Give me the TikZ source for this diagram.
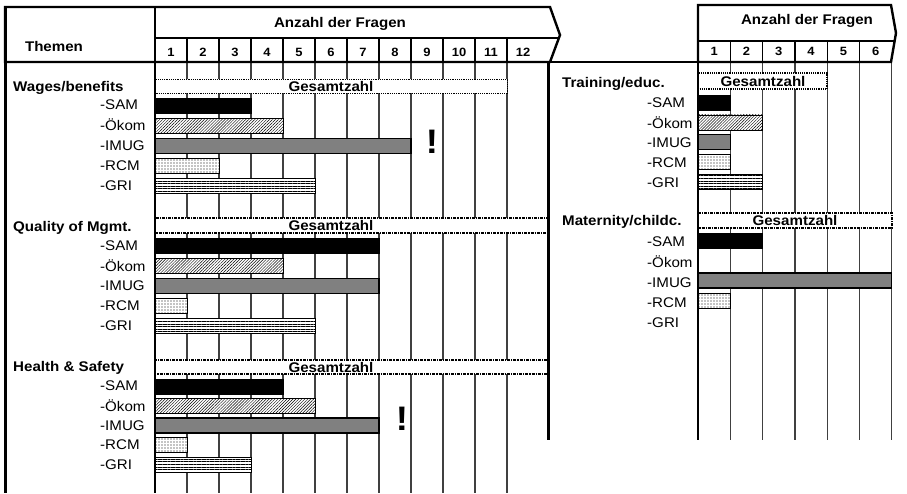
\documentclass[tikz,border=0pt]{standalone}
\usepackage{fontspec}
\setmainfont{Liberation Sans}[FakeStretch=1.08]
\usetikzlibrary{patterns.meta}
\tikzset{
  gridline/.style={line width=1.2pt, draw=black!75},
  hdr/.style={line width=2.4pt, line join=miter},
  sepline/.style={line width=1.4pt},
  totbox/.style={fill=white, draw=black, line width=1.2pt},
  sam/.style={fill=black, draw=black, line width=0.8pt},
  okom/.style={preaction={fill=white}, pattern={Lines[angle=45, distance=2.1pt, line width=0.45pt]}},
  imug/.style={fill=black!50, draw=black, line width=1.2pt},
  rcm/.style={preaction={fill=white}, pattern={Dots[distance=3pt, radius=0.6pt]}, draw=black, line width=1pt},
  gri/.style={preaction={fill=white}, pattern={Lines[angle=0, distance=2.6pt, line width=0.9pt]}, draw=black, line width=1pt},
  lbl/.style={anchor=west, inner sep=0pt, font=\fontsize{14}{16}\selectfont},
  sect/.style={lbl, font=\fontsize{14}{16}\selectfont\bfseries},
  num/.style={inner sep=0pt, font=\fontsize{12}{14}\selectfont\bfseries},
  total/.style={inner sep=0pt, font=\fontsize{14}{16}\selectfont\bfseries},
  warn/.style={inner sep=0pt, font=\fontsize{34}{34}\selectfont\bfseries}
}
\def\lbar[#1](#2)(#3){\draw[#1] (155, #2-7.5) rectangle ({155+32*#3}, #2+7.5);}
\def\rbar[#1](#2)(#3){\draw[#1] (698, #2-7.5) rectangle ({698+32.3*#3}, #2+7.5);}

\begin{document}
\begin{tikzpicture}[x=1pt, y=-1pt]
		\useasboundingbox (0,0) rectangle (907,493);
		
		%%%%% GRID %%%%%
		\foreach \x in {187,219,...,507} \draw[gridline] (\x,62) -- (\x,493);
		\foreach \i in {1,...,6} \draw[gridline] ({698+32.3*\i},62) -- ({698+32.3*\i},440);
		
		%%%%% TOTALS %%%%%
		\draw[totbox, densely dotted, line width=0.9pt] (155,79) rectangle (507,93);
		\draw[totbox, densely dash dot] (155,218) rectangle (548,233);
		\draw[totbox, densely dash dot] (155,360) rectangle (548,374);
		\draw[totbox, densely dotted, line width=1.6pt] (698,73) rectangle (827,89);
		\draw[totbox, densely dash dot] (698,213) rectangle (892,228);
		\node[total] (tw) at (331,86) {Gesamtzahl};
		\node[total] (tq) at (331,225.5) {Gesamtzahl};
		\node[total] (th) at (331,367) {Gesamtzahl};
		\node[total] (tt) at (763,81) {Gesamtzahl};
		\node[total] (tm) at (795,220.5) {Gesamtzahl};
		
		%%%%% BARS %%%%%
		\lbar[sam](106)(3)
		\lbar[okom](126)(4)
		\lbar[imug](146)(8)
		\lbar[rcm](166)(2)
		\lbar[gri](186)(5)
		
		\lbar[sam](246)(7)
		\lbar[okom](266)(4)
		\lbar[imug](286)(7)
		\lbar[rcm](306)(1)
		\lbar[gri](326)(5)
		
		\lbar[sam](386.5)(4)
		\lbar[okom](406)(5)
		\lbar[imug](425.5)(7)
		\lbar[rcm](445)(1)
		\lbar[gri](464.5)(3)
		
		\rbar[sam](102.5)(1)
		\rbar[okom](122.3)(2)
		\rbar[imug](142.1)(1)
		\rbar[rcm](161.9)(1)
		\rbar[gri](181.7)(2)
		
		\rbar[sam](240.5)(2)
		\rbar[imug](280.5)(6)
		\rbar[rcm](300.5)(1)
		
		\node[warn] (warn1) at (432,142) {!};
		\node[warn] (warn2) at (402,419) {!};
		
		%%%%% LABELS %%%%%
		\node[sect] (wages) at (13,88) {Wages/benefits};
		\node[sect] (quality) at (13,228) {Quality of Mgmt.};
		\node[sect] (health) at (13,368) {Health \& Safety};
		\node[sect] (training) at (562,84) {Training/educ.};
		\node[sect] (maternity) at (562,222) {Maternity/childc.};
		\foreach \t [count=\k from 0] in {SAM,Ökom,IMUG,RCM,GRI} {
			\node[lbl] (w\k) at (100,{105+20.2*\k}) {-\t};
			\node[lbl] (q\k) at (100,{246+20*\k}) {-\t};
			\node[lbl] (h\k) at (100,{386+19.6*\k}) {-\t};
			\node[lbl] (t\k) at (647,{103+19.8*\k}) {-\t};
			\node[lbl] (m\k) at (647,{242+20.2*\k}) {-\t};
		}
		
		%%%%% HEADERS %%%%%
		\draw[hdr, fill=white] (5,7) -- (550,7) -- (560,35) -- (550,62) -- (5,62) -- cycle;
		\draw[hdr] (155,7) -- (155,62);
		\draw[sepline] (155,38) -- (559,38);
		\foreach \x in {187,219,...,507} \draw[sepline] (\x,38) -- (\x,62);
		\foreach \n in {1,...,12} \node[num] (ln\n) at ({139+32*\n},52) {\n};
		\node[sect, anchor=center] (themen) at (54,46) {Themen};
		\node[sect, anchor=center] (lhead) at (340,24) {Anzahl der Fragen};
		\draw[line width=1.6pt] (550,62) -- (698,62);
		
		\draw[hdr, fill=white] (698,5) -- (891,5) -- (896,33) -- (891,62) -- (698,62) -- cycle;
		\draw[sepline] (698,41) -- (894.6,41);
		\foreach \i in {1,...,5} \draw[sepline] ({698+32.3*\i},41) -- ({698+32.3*\i},62);
		\foreach \n in {1,...,6} \node[num] (rn\n) at ({681.85+32.3*\n},51) {\n};
		\node[sect, anchor=center] (rhead) at (807,21) {Anzahl der Fragen};
		
		%%%%% BORDERS %%%%%
		\draw[line width=3pt] (5,7) -- (5,493);
		\draw[line width=2.2pt] (155,62) -- (155,493);
		\draw[line width=3pt] (548,62) -- (548,440);
		\draw[line width=2.2pt] (698,62) -- (698,440);
		
	\end{tikzpicture}
\end{document}
